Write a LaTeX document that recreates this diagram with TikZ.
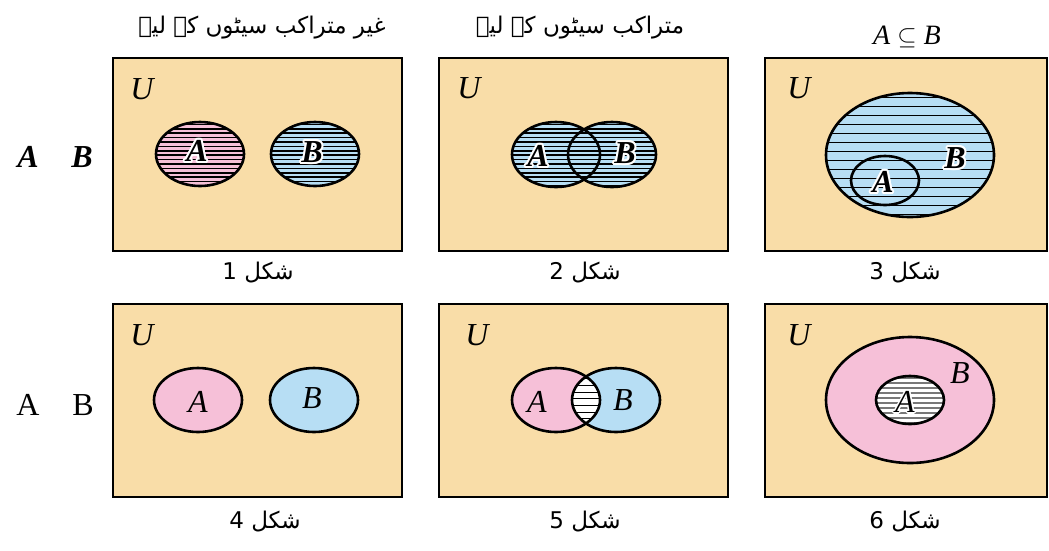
\documentclass[tikz,border=0pt]{standalone}
\usepackage{fontspec}
\setmainfont{Liberation Serif}
\newfontfamily\urdu[Script=Arabic]{DejaVu Sans}
\TeXXeTstate=1
\definecolor{paper}{RGB}{249,221,168}
\definecolor{setpink}{RGB}{246,192,216}
\definecolor{setblue}{RGB}{183,222,244}
\definecolor{hatchgrey}{RGB}{120,120,120}
\tikzset{
  frame/.style={draw=black, line width=2.6pt, fill=paper},
  outline/.style={draw=black, line width=2.6pt},
  hatch/.style={draw=black, line width=1.5pt},
  lbl/.style={inner sep=0pt, font=\fontsize{32}{34}\selectfont\itshape},
  blbl/.style={inner sep=0pt, font=\fontsize{32}{34}\selectfont\bfseries\itshape},
  figcap/.style={inner sep=0pt, font=\urdu\fontsize{23}{26}\selectfont},
  head/.style={inner sep=0pt, font=\urdu\fontsize{23}{26}\selectfont},
}
% bold italic letter with a white halo
\newcommand\halolabel[3]{%
  \foreach \a in {0,30,...,330}
    \node[blbl, text=white] at ([shift={(\a:2)}]#2) {#3};
  \node[blbl] (#1) at (#2) {#3};
}
% horizontal stripes clipped by the enclosing scope
\newcommand\stripes[4]{% style, x0, x1, list of heights
  \foreach \yy in {#4}
    \draw[#1] (#2,\yy) -- (#3,\yy);
}
\begin{document}
\begin{tikzpicture}[x=1pt,y=-1pt]
\useasboundingbox (0,0) rectangle (1049,550);

% headings
\node[head] (h1) at (262,28) {\beginR غیر متراکب سیٹوں کے لیے\endR};
\node[head] (h2) at (580,28) {\beginR متراکب سیٹوں کے لیے\endR};
\node[inner sep=0pt, font=\fontsize{28}{30}\selectfont] (h3) at (907,37) {\textit{A} $\subseteq$ \textit{B}};

% row labels
\node[blbl] (la1) at (28,157) {A};
\node[blbl] (lb1) at (82,157) {B};
\node[inner sep=0pt, font=\fontsize{32}{34}\selectfont] (la2) at (28,405) {A};
\node[inner sep=0pt, font=\fontsize{32}{34}\selectfont] (lb2) at (83,405) {B};

% ---------- figure 1 ----------
\draw[frame] (113,58) rectangle (402,251);
\node[lbl] (u1) at (142,89) {U};
\begin{scope}
  \clip (200,154) ellipse [x radius=44, y radius=32];
  \fill[setpink] (150,115) rectangle (250,195);
  \stripes{hatch}{150}{250}{120,124.4,...,192}
\end{scope}
\begin{scope}
  \clip (315,154) ellipse [x radius=44, y radius=32];
  \fill[setblue] (265,115) rectangle (365,195);
  \stripes{hatch}{265}{365}{120,124.4,...,192}
\end{scope}
\draw[outline] (200,154) ellipse [x radius=44, y radius=32];
\draw[outline] (315,154) ellipse [x radius=44, y radius=32];
\halolabel{a1}{197,151}{A}
\halolabel{b1}{312,152}{B}
\node[figcap] (c1) at (258,273) {\beginR شکل 1\endR};

% ---------- figure 2 ----------
\draw[frame] (439,58) rectangle (728,251);
\node[lbl] (u2) at (469,88) {U};
\begin{scope}
  \clip (556,154.5) ellipse [x radius=44, y radius=32.5]
        (612,154.5) ellipse [x radius=44, y radius=32.5];
  \fill[setblue] (505,115) rectangle (665,195);
  \stripes{hatch}{505}{665}{120,124.4,...,192}
\end{scope}
\draw[outline] (556,154.5) ellipse [x radius=44, y radius=32.5];
\draw[outline] (612,154.5) ellipse [x radius=44, y radius=32.5];
\halolabel{a2}{538,156}{A}
\halolabel{b2}{625,153}{B}
\node[figcap] (c2) at (585,273) {\beginR شکل 2\endR};

% ---------- figure 3 ----------
\draw[frame] (765,58) rectangle (1047,251);
\node[lbl] (u3) at (799,88) {U};
\begin{scope}
  \clip (910,155) ellipse [x radius=84, y radius=62];
  \fill[setblue] (820,90) rectangle (1000,220);
  \stripes{black, line width=1.2pt}{820}{1000}{97.5,106.5,...,217}
\end{scope}
\draw[outline] (910,155) ellipse [x radius=84, y radius=62];
\draw[outline] (885,180.5) ellipse [x radius=34, y radius=24.5];
\halolabel{a3}{883,182}{A}
\halolabel{b3}{955,158}{B}
\node[figcap] (c3) at (905,273) {\beginR شکل 3\endR};

% ---------- figure 4 ----------
\draw[frame] (113,304) rectangle (402,497);
\node[lbl] (u4) at (142,335) {U};
\draw[outline, fill=setpink] (198,400) ellipse [x radius=44, y radius=32];
\draw[outline, fill=setblue] (314,400) ellipse [x radius=44, y radius=32];
\node[lbl] (a4) at (198,402) {A};
\node[lbl] (b4) at (312,398) {B};
\node[figcap] (c4) at (265,522) {\beginR شکل 4\endR};

% ---------- figure 5 ----------
\draw[frame] (439,304) rectangle (728,497);
\node[lbl] (u5) at (477,335) {U};
\fill[setpink] (556,400) ellipse [x radius=44, y radius=32];
\fill[setblue] (616,400) ellipse [x radius=44, y radius=32];
\begin{scope}
  \clip (556,400) ellipse [x radius=44, y radius=32];
  \clip (616,400) ellipse [x radius=44, y radius=32];
  \fill[white] (560,360) rectangle (610,440);
  \stripes{black, line width=1pt}{560}{610}{372,378.7,...,432}
\end{scope}
\draw[outline] (556,400) ellipse [x radius=44, y radius=32];
\draw[outline] (616,400) ellipse [x radius=44, y radius=32];
\node[lbl] (a5) at (537,402) {A};
\node[lbl] (b5) at (623,400) {B};
\node[figcap] (c5) at (585,522) {\beginR شکل 5\endR};

% ---------- figure 6 ----------
\draw[frame] (765,304) rectangle (1047,497);
\node[lbl] (u6) at (799,335) {U};
\draw[outline, fill=setpink] (910,400) ellipse [x radius=84, y radius=63];
\begin{scope}
  \clip (910,400) ellipse [x radius=34, y radius=24];
  \fill[white] (870,370) rectangle (950,430);
  \stripes{hatchgrey, line width=1.8pt}{870}{950}{378,383,...,425}
\end{scope}
\draw[outline] (910,400) ellipse [x radius=34, y radius=24];
\foreach \a in {0,45,...,315}
  \node[lbl, text=white] at ([shift={(\a:1.5)}]905,402) {A};
\node[lbl] (a6) at (905,402) {A};
\node[lbl] (b6) at (960,373) {B};
\node[figcap] (c6) at (905,522) {\beginR شکل 6\endR};
\end{tikzpicture}
\end{document}
